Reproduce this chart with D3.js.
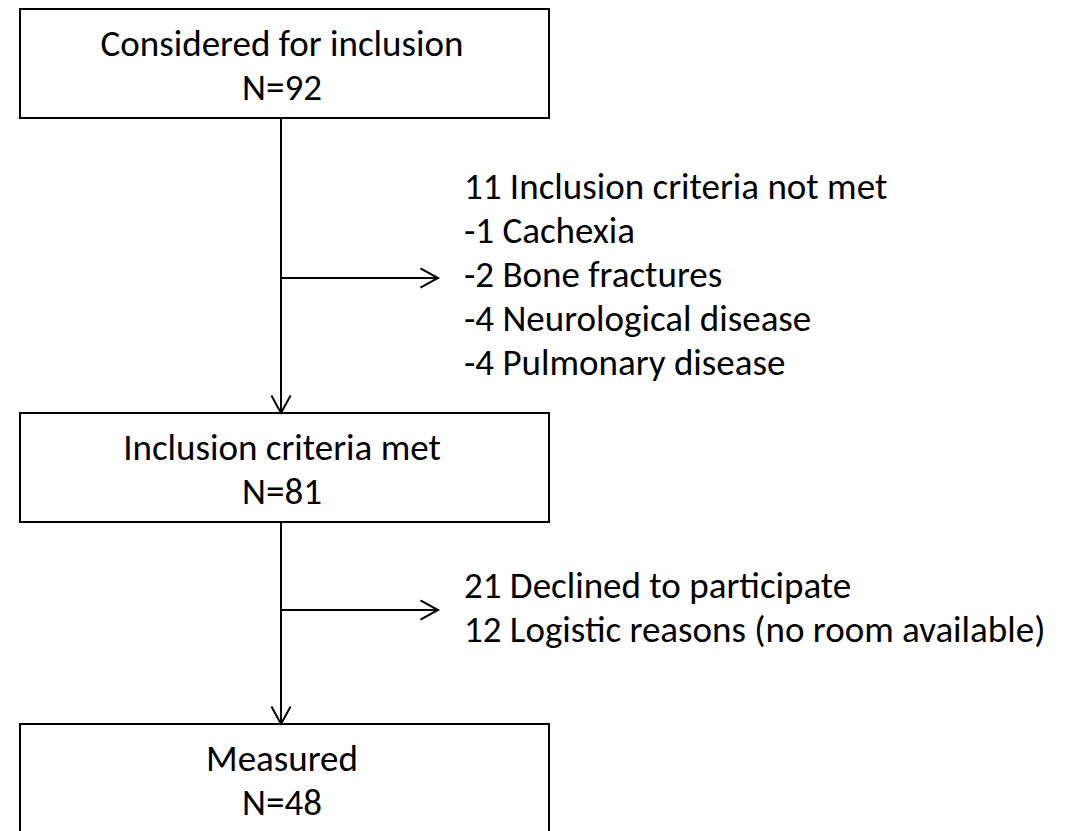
<!DOCTYPE html>
<html>
<head>
<meta charset="utf-8">
<script src="https://cdn.jsdelivr.net/npm/d3@7"></script>
<style>
  html, body { margin: 0; padding: 0; background: #fff; }
  svg text { font-family: Carlito, Calibri, "Open Sans", "Noto Sans", sans-serif; fill: #000; }
</style>
</head>
<body>
<div id="chart"></div>
<script>
// stages of the flow
const stageLabels = ['Considered for inclusion', 'Inclusion criteria met', 'Measured']
const stageCounts = [92, 81, 48]

// exclusions between stages
const exclusion1 = ['11 Inclusion criteria not met', '-1 Cachexia', '-2 Bone fractures',
  '-4 Neurological disease', '-4 Pulmonary disease']
const exclusion2 = ['21 Declined to participate', '12 Logistic reasons (no room available)']

const W = 1065, H = 831
const FS = 37
const svg = d3.select('#chart').append('svg')
  .attr('width', W)
  .attr('height', H)

// layout
const boxLeft = 20, boxRight = 549, boxH = 109
const boxTops = [9, 413, 724]
const stemX = 281
const textX = 282
const listX = 464

const y = d3.scaleLinear().domain([0, H]).range([0, H])

// boxes
const boxes = svg.selectAll('g.stage')
  .data(stageLabels.map((l, i) => ({ label: l, n: stageCounts[i], top: boxTops[i] })))
  .enter()
  .append('g')
  .attr('class', 'stage')

boxes.append('rect')
  .attr('x', boxLeft)
  .attr('y', d => y(d.top))
  .attr('width', boxRight - boxLeft)
  .attr('height', boxH)
  .attr('fill', '#fff')
  .attr('stroke', '#000')
  .attr('stroke-width', 2)

boxes.append('text')
  .attr('x', textX)
  .attr('y', d => y(d.top) + 47)
  .attr('text-anchor', 'middle')
  .attr('font-size', FS)
  .text(d => d.label)

boxes.append('text')
  .attr('x', textX)
  .attr('y', d => y(d.top) + 91)
  .attr('text-anchor', 'middle')
  .attr('font-size', FS)
  .text(d => 'N=' + d.n)

// arrow helper (open V head)
function arrow(x1, y1, x2, y2) {
  const g = svg.append('g').attr('stroke', '#000').attr('stroke-width', 2).attr('fill', 'none')
  g.append('line').attr('x1', x1).attr('y1', y1).attr('x2', x2).attr('y2', y2)
  const a = Math.atan2(y2 - y1, x2 - x1)
  const len = 20, half = 0.5
  const head = d3.line()([
    [x2 - len * Math.cos(a - half), y2 - len * Math.sin(a - half)],
    [x2, y2],
    [x2 - len * Math.cos(a + half), y2 - len * Math.sin(a + half)]
  ])
  g.append('path').attr('d', head)
}

// vertical connectors
arrow(stemX, y(boxTops[0] + boxH), stemX, y(boxTops[1]))
arrow(stemX, y(boxTops[1] + boxH), stemX, y(boxTops[2]))

// side arrows
arrow(stemX, y(278), 438, y(278))
arrow(stemX, y(610), 438, y(610))

// exclusion lists
const list1 = d3.scalePoint().domain(d3.range(exclusion1.length)).range([199, 375])
svg.selectAll('text.ex1')
  .data(exclusion1)
  .enter()
  .append('text')
  .attr('class', 'ex1')
  .attr('x', listX)
  .attr('y', (d, i) => y(list1(i)))
  .attr('font-size', FS)
  .text(d => d)

const list2 = d3.scalePoint().domain(d3.range(exclusion2.length)).range([598, 642])
svg.selectAll('text.ex2')
  .data(exclusion2)
  .enter()
  .append('text')
  .attr('class', 'ex2')
  .attr('x', listX)
  .attr('y', (d, i) => y(list2(i)))
  .attr('font-size', FS)
  .text(d => d)
</script>
</body>
</html>
